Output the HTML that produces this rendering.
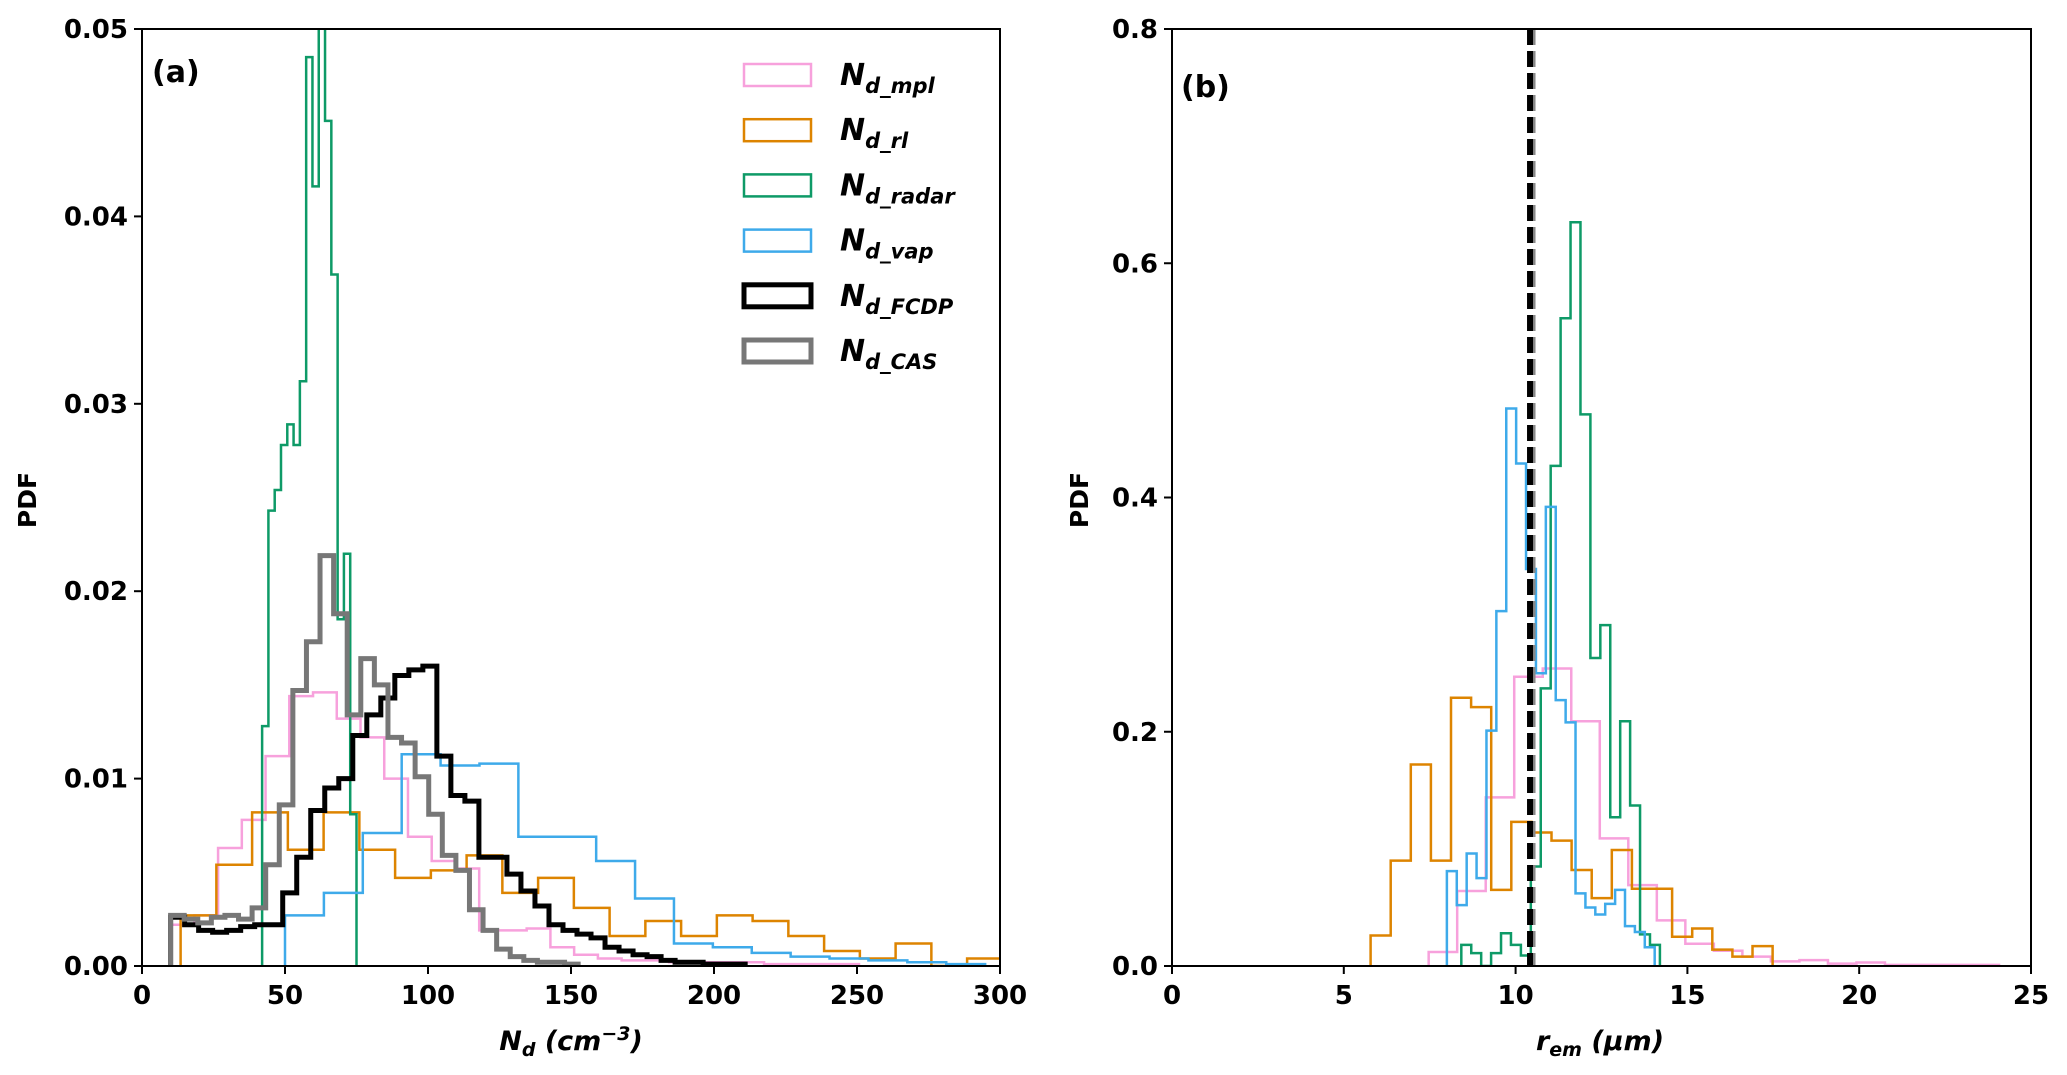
<!DOCTYPE html>
<html><head><meta charset="utf-8">
<style>
html,body{margin:0;padding:0;background:#fff;}
svg{display:block;font-family:"DejaVu Sans","Liberation Sans",sans-serif;}
</style></head>
<body>
<svg id="fig" width="2067" height="1075" viewBox="0 0 2067 1075" xmlns="http://www.w3.org/2000/svg"></svg>
<script>
// ---------- Panel (a) data ----------
const aXTicks = [0,50,100,150,200,250,300];
const aYTicks = [0.00,0.01,0.02,0.03,0.04,0.05];
const aYTickLabels = ["0.00","0.01","0.02","0.03","0.04","0.05"];
const mplStart = 10, mplWidth = 8.3;
const mplVals = [0.0022,0.0027,0.0063,0.0078,0.0112,0.0144,0.0146,0.0132,0.0122,0.0100,0.0069,0.0056,0.0052,0.0019,0.0019,0.0020,0.0010,0.0006,0.0004,0.0003,0.0003,0.0002,0.0002,0.0002,0.0002,0.0001,0.0001,0.0001,0.0001];
const rlStart = 13.5, rlWidth = 12.5;
const rlVals = [0.0027,0.0054,0.0082,0.0062,0.0082,0.0062,0.0047,0.0051,0.0059,0.0039,0.0047,0.0031,0.0016,0.0024,0.0016,0.0027,0.0024,0.0016,0.0008,0.0004,0.0012,0.0000,0.0004];
const radarStart = 42, radarWidth = 2.2;
const radarVals = [0.0128,0.0243,0.0254,0.0278,0.0289,0.0278,0.0312,0.0485,0.0416,0.0520,0.0451,0.0369,0.0185,0.0220,0.0081];
const vapStart = 50, vapWidth = 13.6;
const vapVals = [0.0027,0.0039,0.0071,0.0113,0.0107,0.0108,0.0069,0.0069,0.0056,0.0036,0.0012,0.0010,0.0007,0.0005,0.0004,0.0003,0.0002,0.0001];
const fcdpStart = 10, fcdpWidth = 4.9;
const fcdpVals = [0.0026,0.0022,0.0019,0.0018,0.0019,0.0021,0.0022,0.0022,0.0039,0.0058,0.0083,0.0095,0.0100,0.0123,0.0134,0.0143,0.0155,0.0158,0.0160,0.0112,0.0091,0.0088,0.0058,0.0058,0.0049,0.0040,0.0032,0.0022,0.0019,0.0017,0.0015,0.0010,0.0008,0.0006,0.0005,0.0003,0.0002,0.0002,0.0001,0.0001,0.0001];
const casStart = 10, casWidth = 4.75;
const casVals = [0.0027,0.0025,0.0023,0.0026,0.0027,0.0025,0.0031,0.0054,0.0086,0.0147,0.0173,0.0219,0.0188,0.0134,0.0164,0.0150,0.0122,0.0119,0.0101,0.0081,0.0059,0.0051,0.0030,0.0019,0.0009,0.0005,0.0003,0.0002,0.0002,0.0001];

// ---------- Panel (b) data ----------
const bXTicks = [0,5,10,15,20,25];
const bYTicks = [0.0,0.2,0.4,0.6,0.8];
const bYTickLabels = ["0.0","0.2","0.4","0.6","0.8"];
const bMplStart = 7.47, bMplWidth = 0.83;
const bMplVals = [0.012,0.064,0.144,0.247,0.254,0.209,0.109,0.069,0.039,0.019,0.013,0.008,0.004,0.005,0.002,0.003,0.001,0.001,0.001,0.001];
const bRlStart = 5.78, bRlWidth = 0.585;
const bRlVals = [0.026,0.090,0.172,0.090,0.229,0.221,0.065,0.123,0.114,0.107,0.082,0.058,0.099,0.066,0.066,0.025,0.032,0.014,0.008,0.017];
const bRadarStart = 8.42, bRadarWidth = 0.289;
const bRadarVals = [0.018,0.011,0.000,0.011,0.028,0.018,0.009,0.085,0.237,0.427,0.553,0.635,0.471,0.263,0.291,0.127,0.209,0.137,0.027,0.018];
const bVapStart = 8.0, bVapWidth = 0.288;
const bVapVals = [0.081,0.052,0.096,0.075,0.201,0.303,0.476,0.429,0.339,0.250,0.392,0.227,0.208,0.062,0.050,0.044,0.053,0.065,0.034,0.029,0.016];
const bDashX = 10.42;

const NS = "http://www.w3.org/2000/svg";
const svg = document.getElementById('fig');
function mk(tag, attrs, parent){
  const e = document.createElementNS(NS, tag);
  for (const k in attrs) e.setAttribute(k, attrs[k]);
  (parent||svg).appendChild(e);
  return e;
}
const COLORS = {mpl:"#f7a1dc", rl:"#dd8400", radar:"#0e9a67", vap:"#3eaaea", fcdp:"#000000", cas:"#777777"};

function panel(p){
  const g = mk('g', {});
  
  
  const sx = v => p.x0 + (v - p.xmin) / (p.xmax - p.xmin) * (p.x1 - p.x0);
  const sy = v => p.y1 - (v - p.ymin) / (p.ymax - p.ymin) * (p.y1 - p.y0);
  const clip = mk('clipPath', {id: p.name + '-clip'}, g);
  mk('rect', {x: p.x0, y: p.y0, width: p.x1 - p.x0, height: p.y1 - p.y0}, clip);
  const plot = mk('g', {'clip-path': 'url(#' + p.name + '-clip)'}, g);
  
  
  p.series.forEach(s => {
    let d = 'M' + sx(s.start) + ',' + sy(0);
    s.vals.forEach((v, i) => {
      const xa = sx(s.start + i * s.width), xb = sx(s.start + (i + 1) * s.width);
      d += ' L' + xa + ',' + sy(v) + ' L' + xb + ',' + sy(v);
    });
    d += ' L' + sx(s.start + s.vals.length * s.width) + ',' + sy(0);
    const path = mk('path', {d: d, fill: 'none', stroke: s.color, 'stroke-width': s.lw, 'stroke-linejoin': 'miter'}, plot);
    
    
  });
  if (p.dash !== undefined){
    const l1 = mk('line', {x1: sx(p.dash) + 3, x2: sx(p.dash) + 3, y1: p.y0, y2: p.y1, stroke: '#888', 'stroke-width': 5, 'stroke-dasharray': '16 6'}, plot);
    
    
    const l2 = mk('line', {x1: sx(p.dash), x2: sx(p.dash), y1: p.y0, y2: p.y1, stroke: '#000', 'stroke-width': 6, 'stroke-dasharray': '16 6'}, plot);
    
    
  }
  const frame = mk('rect', {x: p.x0, y: p.y0, width: p.x1 - p.x0, height: p.y1 - p.y0, fill: 'none', stroke: '#000', 'stroke-width': 2}, g);
  
  
  p.xticks.forEach(t => {
    const x = sx(t);
    mk('line', {x1: x, x2: x, y1: p.y1, y2: p.y1 + 8, stroke: '#000', 'stroke-width': 2}, g);
    const tx = mk('text', {x: x, y: p.y1 + 38, 'text-anchor': 'middle', 'font-size': 26, 'font-weight': 'bold'}, g);
    tx.textContent = String(t);
    
    
  });
  p.yticks.forEach((t, i) => {
    const y = sy(t);
    mk('line', {x1: p.x0 - 8, x2: p.x0, y1: y, y2: y, stroke: '#000', 'stroke-width': 2}, g);
    const ty = mk('text', {x: p.x0 - 14, y: y + 9, 'text-anchor': 'end', 'font-size': 26, 'font-weight': 'bold'}, g);
    ty.textContent = p.ylabels[i];
    
    
  });
  return {sx, sy};
}

panel({name:'panel-a', x0:142, x1:1000, y0:29, y1:966, xmin:0, xmax:300, ymin:0, ymax:0.05,
  xticks:aXTicks, yticks:aYTicks, ylabels:aYTickLabels,
  series:[
    {start:mplStart,width:mplWidth,vals:mplVals,color:COLORS.mpl,lw:2.5,dname:'hist-nd-mpl'},
    {start:rlStart,width:rlWidth,vals:rlVals,color:COLORS.rl,lw:2.5,dname:'hist-nd-rl'},
    {start:radarStart,width:radarWidth,vals:radarVals,color:COLORS.radar,lw:2.5,dname:'hist-nd-radar'},
    {start:vapStart,width:vapWidth,vals:vapVals,color:COLORS.vap,lw:2.5,dname:'hist-nd-vap'},
    {start:fcdpStart,width:fcdpWidth,vals:fcdpVals,color:COLORS.fcdp,lw:5,dname:'hist-nd-fcdp'},
    {start:casStart,width:casWidth,vals:casVals,color:COLORS.cas,lw:5,dname:'hist-nd-cas'}
  ]});
panel({name:'panel-b', x0:1172, x1:2031, y0:29, y1:966, xmin:0, xmax:25, ymin:0, ymax:0.8,
  xticks:bXTicks, yticks:bYTicks, ylabels:bYTickLabels, dash:bDashX,
  series:[
    {start:bMplStart,width:bMplWidth,vals:bMplVals,color:COLORS.mpl,lw:2.5,dname:'hist-rem-mpl'},
    {start:bRlStart,width:bRlWidth,vals:bRlVals,color:COLORS.rl,lw:2.5,dname:'hist-rem-rl'},
    {start:bRadarStart,width:bRadarWidth,vals:bRadarVals,color:COLORS.radar,lw:2.5,dname:'hist-rem-radar'},
    {start:bVapStart,width:bVapWidth,vals:bVapVals,color:COLORS.vap,lw:2.5,dname:'hist-rem-vap'}
  ]});

// legend
const legend = mk('g', {});


const legEntries = [["mpl",COLORS.mpl,2.5],["rl",COLORS.rl,2.5],["radar",COLORS.radar,2.5],["vap",COLORS.vap,2.5],["FCDP",COLORS.fcdp,5],["CAS",COLORS.cas,5]];
legEntries.forEach((e, i) => {
  const cy = 75 + i * 55.2;
  const r = mk('rect', {x: 744, y: cy - 11, width: 67, height: 22, fill: 'none', stroke: e[1], 'stroke-width': e[2]}, legend);
  
  
  const t = mk('text', {x: 840, y: cy + 10, 'font-size': 30, 'font-weight': 'bold', 'font-style': 'italic'}, legend);
  t.innerHTML = 'N<tspan font-size="21" dy="8">d_' + e[0] + '</tspan>';
  
  
});
</script>
<svg style="position:absolute;left:0;top:0" width="2067" height="1075">
  <text x="152" y="82" font-family="DejaVu Sans" font-size="30" font-weight="bold">(a)</text>
  <text x="1181" y="97" font-family="DejaVu Sans" font-size="30" font-weight="bold">(b)</text>
  <text transform="translate(36,500) rotate(-90)" text-anchor="middle" font-family="DejaVu Sans" font-size="25" font-weight="bold">PDF</text>
  <text transform="translate(1088,500) rotate(-90)" text-anchor="middle" font-family="DejaVu Sans" font-size="25" font-weight="bold">PDF</text>
  <text x="571" y="1050" text-anchor="middle" font-family="DejaVu Sans" font-size="27" font-weight="bold" font-style="italic">N<tspan font-size="19" dy="6">d</tspan><tspan dy="-6"> (cm</tspan><tspan font-size="19" dy="-10">−3</tspan><tspan dy="10">)</tspan></text>
  <text x="1600" y="1050" text-anchor="middle" font-family="DejaVu Sans" font-size="27" font-weight="bold" font-style="italic">r<tspan font-size="19" dy="6">em</tspan><tspan dy="-6"> (μm)</tspan></text>
</svg>
</body></html>
